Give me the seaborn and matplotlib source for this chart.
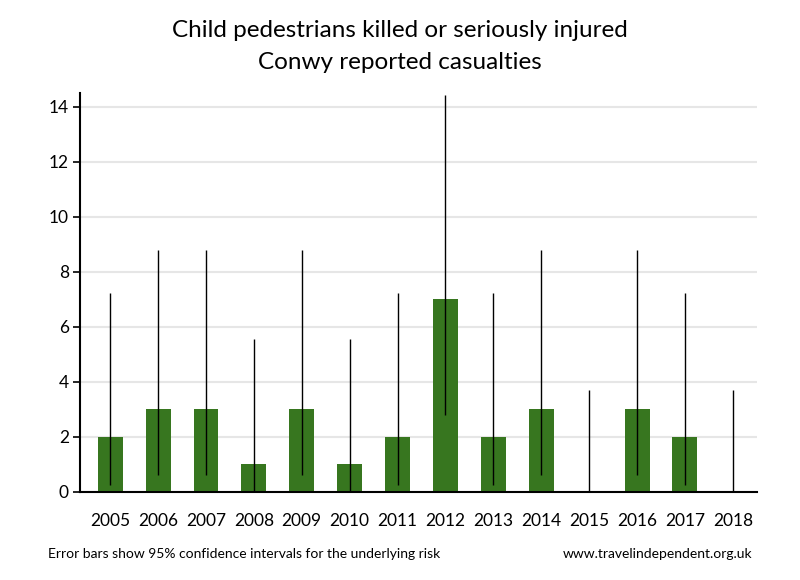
import numpy as np
import pandas as pd
import matplotlib
matplotlib.use("Agg")
import matplotlib.pyplot as plt
import seaborn as sns

years = ["2005", "2006", "2007", "2008", "2009", "2010", "2011",
         "2012", "2013", "2014", "2015", "2016", "2017", "2018"]
casualties = [2, 3, 3, 1, 3, 1, 2, 7, 2, 3, 0, 3, 2, 0]
ci_low = [0.24, 0.62, 0.62, 0.03, 0.62, 0.03, 0.24,
          2.81, 0.24, 0.62, 0.0, 0.62, 0.24, 0.0]
ci_high = [7.22, 8.77, 8.77, 5.57, 8.77, 5.57, 7.22,
           14.42, 7.22, 8.77, 3.69, 8.77, 7.22, 3.69]

df = pd.DataFrame({"year": years, "ksi": casualties,
                   "lo": ci_low, "hi": ci_high})

sns.set_style("white", {"text.color": "black", "xtick.color": "black",
                        "ytick.color": "black"})
plt.rcParams['font.family'] = ['Lato', 'DejaVu Sans']

fig = plt.figure(figsize=(8, 5.8), dpi=100)
ax = fig.add_axes([0.1, 0.152, 0.846, 0.688])

sns.barplot(data=df, x="year", y="ksi", color="#37761f", saturation=1,
            width=0.52, linewidth=0, ax=ax)

# confidence intervals as plain vertical lines
xs = np.arange(len(df))
ax.vlines(xs, df["lo"], df["hi"], color="black", linewidth=1, zorder=3)

ax.set_ylim(0, 14.5)
ax.set_xlim(-0.63, 13.5)
ax.set_yticks(range(0, 15, 2))
ax.yaxis.grid(True, color="#e6e6e6", linewidth=1.5)
ax.set_axisbelow(True)
ax.set_xlabel("")
ax.set_ylabel("")

sns.despine(ax=ax)
ax.spines["left"].set_linewidth(1.5)
ax.spines["bottom"].set_linewidth(1.5)
ax.spines["left"].set_color("black")
ax.spines["bottom"].set_color("black")
ax.tick_params(axis="y", left=True, length=5, width=1.2, labelsize=12.5, pad=3)
ax.tick_params(axis="x", bottom=False, labelsize=12.5, pad=12)

fig.text(0.5, 0.948, "Child pedestrians killed or seriously injured",
         ha="center", va="center", fontsize=17.5)
fig.text(0.5, 0.893, "Conwy reported casualties",
         ha="center", va="center", fontsize=17.5)
fig.text(0.06, 0.045, "Error bars show 95% confidence intervals for the underlying risk",
         ha="left", va="center", fontsize=10)
fig.text(0.94, 0.045, "www.travelindependent.org.uk",
         ha="right", va="center", fontsize=10)

fig.savefig("out.png", dpi=100)
